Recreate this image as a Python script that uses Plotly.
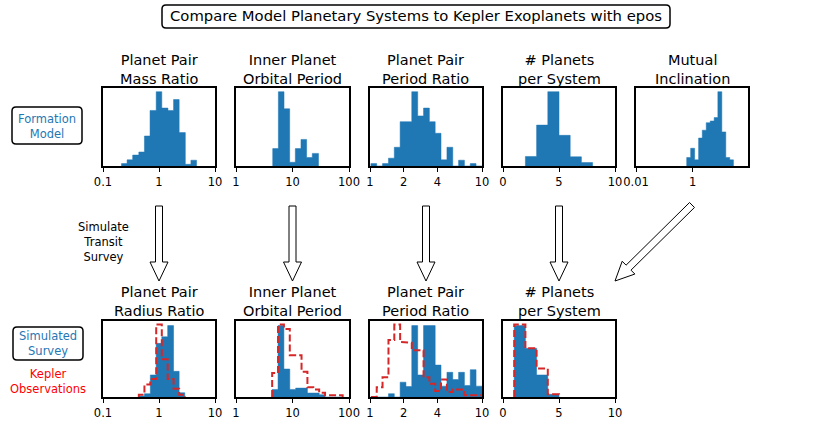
import numpy as np
import plotly.graph_objects as go

W, H = 831, 447
BLUE = "#1f77b4"
RED = "#d62728"
FONT = "DejaVu Sans"

# ---- formation model (top row) ----
MASS_EDGES_LOG = [-0.67, -0.57, -0.47, -0.36, -0.26, -0.16, -0.05, 0.05, 0.16, 0.26, 0.36, 0.47, 0.57, 0.67]
MASS_COUNTS = [7, 18, 32, 41, 88, 163, 218, 170, 163, 195, 98, 5, 17]

PERIOD_EDGES_LOG = [0.65, 0.75, 0.85, 0.95, 1.05, 1.15, 1.25, 1.35, 1.46]
PERIOD_COUNTS = [51, 218, 168, 11, 51, 78, 25, 37]

RATIO_EDGES_LOG = [0.008, 0.060, 0.112, 0.165, 0.217, 0.269, 0.321, 0.373, 0.426, 0.478,
                   0.530, 0.582, 0.634, 0.687, 0.739, 0.791, 0.843, 0.895, 0.947, 1.000]
RATIO_COUNTS = [7, 0, 7, 23, 55, 130, 130, 218, 147, 170, 130, 96, 18, 55, 0, 17, 0, 7, 0]

NPL_EDGES = [2, 3, 4, 5, 6, 7, 8]
NPL_COUNTS = [28, 120, 218, 90, 27, 10]

INC_EDGES_LOG = [-0.21, -0.07, 0.07, 0.21, 0.34, 0.48, 0.62, 0.76, 0.89, 1.03, 1.17, 1.31, 1.44]
INC_COUNTS = [25, 52, 18, 82, 105, 127, 132, 142, 218, 100, 25, 18]

# ---- simulated survey vs kepler (bottom row) ----
RADIUS_EDGES_LOG = [-0.36, -0.26, -0.155, -0.05, 0.05, 0.155, 0.26, 0.36, 0.46]
RADIUS_SIM = [3, 10, 67, 163, 183, 217, 78, 13]
RADIUS_KEP = [7, 38, 55, 220, 115, 55, 25, 7]

INNER_EDGES_LOG = [0.64, 0.744, 0.848, 0.952, 1.056, 1.16, 1.264, 1.368, 1.472, 1.576, 1.68, 1.784, 1.888]
INNER_SIM = [23, 217, 85, 23, 27, 27, 12, 12, 7, 0, 0, 0]
INNER_KEP = [73, 220, 207, 127, 127, 77, 30, 23, 13, 5, 5, 5]

RATIO_SIM = [0, 0, 0, 10, 0, 45, 32, 217, 67, 217, 217, 97, 33, 75, 53, 75, 35, 83, 33]
RATIO_KEP = [0, 30, 60, 173, 220, 167, 165, 142, 142, 60, 40, 18, 53, 15, 23, 23, 5, 5, 5]

NPL_OBS_EDGES = [1, 2, 3, 4, 5]
NPL_SIM = [217, 148, 67, 8]
NPL_KEP = [220, 148, 87, 8]

TOP_TITLES = ["Planet Pair<br>Mass Ratio", "Inner Planet<br>Orbital Period",
              "Planet Pair<br>Period Ratio", "# Planets<br>per System",
              "Mutual<br>Inclination"]
BOT_TITLES = ["Planet Pair<br>Radius Ratio", "Inner Planet<br>Orbital Period",
              "Planet Pair<br>Period Ratio", "# Planets<br>per System"]

def lg(v):
    return [10 ** e for e in v]

def step_xy(edges, counts):
    xs, ys = [edges[0]], [0]
    for i, c in enumerate(counts):
        xs += [edges[i], edges[i + 1]]
        ys += [c, c]
    xs.append(edges[-1])
    ys.append(0)
    return xs, ys

def px(x):
    return x / W

def py(y):
    return 1 - y / H

COLS = [(103, 215), (236, 349), (370, 482), (503, 615), (636, 748)]
TOP_Y = (88, 166)
BOT_Y = (321, 397)

# axis specs: (type, range, tickvals, ticktext)
log_mass = ("log", [-1, 1], [0.1, 1, 10], ["0.1", "1", "10"])
log_per = ("log", [0, 2], [1, 10, 100], ["1", "10", "100"])
log_rat = ("log", [0, 1], [1, 2, 4, 10], ["1", "2", "4", "10"])
lin_npl = ("linear", [0, 10], [0, 5, 10], ["0", "5", "10"])
log_inc = ("log", [-2, np.log10(90)], [0.01, 1], ["0.01", "1"])

panels = [
    # col, row, axis, blue (edges, counts), red (edges, counts) or None
    (0, "top", log_mass, (lg(MASS_EDGES_LOG), MASS_COUNTS), None),
    (1, "top", log_per, (lg(PERIOD_EDGES_LOG), PERIOD_COUNTS), None),
    (2, "top", log_rat, (lg(RATIO_EDGES_LOG), RATIO_COUNTS), None),
    (3, "top", lin_npl, (NPL_EDGES, NPL_COUNTS), None),
    (4, "top", log_inc, (lg(INC_EDGES_LOG), INC_COUNTS), None),
    (0, "bot", log_mass, (lg(RADIUS_EDGES_LOG), RADIUS_SIM), (lg(RADIUS_EDGES_LOG), RADIUS_KEP)),
    (1, "bot", log_per, (lg(INNER_EDGES_LOG), INNER_SIM), (lg(INNER_EDGES_LOG), INNER_KEP)),
    (2, "bot", log_rat, (lg(RATIO_EDGES_LOG), RATIO_SIM), (lg(RATIO_EDGES_LOG), RATIO_KEP)),
    (3, "bot", lin_npl, (NPL_OBS_EDGES, NPL_SIM), (NPL_OBS_EDGES, NPL_KEP)),
]

fig = go.Figure()
layout = {}
for n, (col, row, ax, blue, red) in enumerate(panels, start=1):
    sfx = "" if n == 1 else str(n)
    x0, x1 = COLS[col]
    y0, y1 = TOP_Y if row == "top" else BOT_Y
    bx, by = step_xy(*blue)
    fig.add_trace(go.Scatter(x=bx, y=by, fill="toself", fillcolor=BLUE, mode="lines",
                             line=dict(color=BLUE, width=0.5), xaxis="x" + sfx, yaxis="y" + sfx,
                             hoverinfo="skip", showlegend=False))
    ymax = max(blue[1])
    if red is not None:
        rx, ry = step_xy(*red)
        fig.add_trace(go.Scatter(x=rx, y=ry, mode="lines",
                                 line=dict(color=RED, width=2, dash="7px,3px"),
                                 xaxis="x" + sfx, yaxis="y" + sfx, hoverinfo="skip", showlegend=False))
        ymax = max(ymax, max(red[1]))
    typ, rng, tv, tt = ax
    layout["xaxis" + sfx] = dict(domain=[px(x0), px(x1)], type=typ, range=rng, tickvals=tv, ticktext=tt,
                                 showline=True, mirror=True, linecolor="black", linewidth=2,
                                 ticks="outside", ticklen=4, tickwidth=1, tickcolor="black",
                                 tickfont=dict(family=FONT, size=11.5, color="black"),
                                 showgrid=False, zeroline=False, anchor="y" + sfx, fixedrange=True)
    layout["yaxis" + sfx] = dict(domain=[py(y1), py(y0)], range=[0, ymax * 1.05],
                                 showticklabels=False, ticks="", showline=True, mirror=True,
                                 linecolor="black", linewidth=2, showgrid=False, zeroline=False,
                                 anchor="x" + sfx, fixedrange=True)

annotations = []

def text(x, y, s, size, color="black"):
    annotations.append(dict(x=px(x), y=py(y), xref="paper", yref="paper", text=s, showarrow=False,
                            xanchor="center", yanchor="middle",
                            font=dict(family=FONT, size=size, color=color)))

for t, (x0, x1) in zip(TOP_TITLES, COLS):
    text((x0 + x1) / 2, 69, t, 14.5)
for t, (x0, x1) in zip(BOT_TITLES, COLS):
    text((x0 + x1) / 2, 301.5, t, 14.5)

text(416, 16, "Compare Model Planetary Systems to Kepler Exoplanets with epos", 14.8)
text(47, 126, "Formation<br>Model", 11.5, BLUE)
text(48, 343, "Simulated<br>Survey", 11.5, BLUE)
text(48, 381, "Kepler<br>Observations", 11.5, "red")
text(103, 241.5, "Simulate<br>Transit<br>Survey", 11.5)

def rounded_rect(x0, y0, x1, y1, r=4):
    pts = (f"M {px(x0 + r)},{py(y0)} L {px(x1 - r)},{py(y0)} Q {px(x1)},{py(y0)} {px(x1)},{py(y0 + r)} "
           f"L {px(x1)},{py(y1 - r)} Q {px(x1)},{py(y1)} {px(x1 - r)},{py(y1)} "
           f"L {px(x0 + r)},{py(y1)} Q {px(x0)},{py(y1)} {px(x0)},{py(y1 - r)} "
           f"L {px(x0)},{py(y0 + r)} Q {px(x0)},{py(y0)} {px(x0 + r)},{py(y0)} Z")
    return dict(type="path", path=pts, xref="paper", yref="paper",
                line=dict(color="black", width=1.5), fillcolor="white", layer="below")

def arrow(x0, y0, x1, y1, shaft=7, head=18, head_len=19):
    p0 = np.array([x0, y0], float)
    p1 = np.array([x1, y1], float)
    u = (p1 - p0) / np.linalg.norm(p1 - p0)
    nv = np.array([-u[1], u[0]])
    base = p1 - u * head_len
    pts = [p0 + nv * shaft / 2, base + nv * shaft / 2, base + nv * head / 2, p1,
           base - nv * head / 2, base - nv * shaft / 2, p0 - nv * shaft / 2]
    path = "M " + " L ".join(f"{px(p[0])},{py(p[1])}" for p in pts) + " Z"
    return dict(type="path", path=path, xref="paper", yref="paper",
                line=dict(color="black", width=1), fillcolor="white")

shapes = [rounded_rect(162, 5, 670, 28), rounded_rect(12, 107, 82, 144), rounded_rect(13, 327, 83, 360)]
for x0, x1 in COLS[:4]:
    c = (x0 + x1) / 2
    shapes.append(arrow(c, 206, c, 281))
shapes.append(arrow(692, 205, 615, 281))

fig.update_layout(**layout)
fig.update_layout(width=W, height=H, margin=dict(l=0, r=0, t=0, b=0, autoexpand=False),
                  paper_bgcolor="white", plot_bgcolor="white",
                  annotations=annotations, shapes=shapes)
fig.write_html("out.html", config={"displayModeBar": False},
               post_script="document.body.style.margin='0';")
